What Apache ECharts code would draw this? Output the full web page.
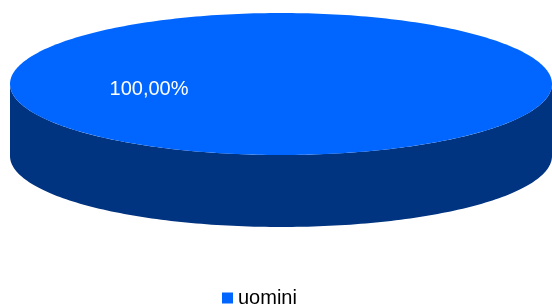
<!DOCTYPE html>
<html>
<head>
<meta charset="utf-8">
<script src="https://cdn.jsdelivr.net/npm/echarts@6/dist/echarts.min.js"></script>
<style>
  html, body { margin: 0; padding: 0; background: #fff; }
  #chart { width: 552px; height: 305px; }
</style>
</head>
<body>
<div id="chart"></div>
<script>
var categories = ['uomini'];
var values = [100];
var topColors = ['#0066FF'];
var sideColors = ['#003380'];

var chart = echarts.init(document.getElementById('chart'));
var total = values.reduce(function (a, b) { return a + b; }, 0);

// ellipse layout of the fake 3d pie
var cx = 281, cy = 84, rx = 271, ry = 71, depth = 72;
var labelPos = [149, 89];

function arc(a0, a1, dy) {
  var pts = [];
  var n = Math.max(2, Math.ceil((a1 - a0) / 0.02));
  for (var k = 0; k <= n; k++) {
    var t = a0 + (a1 - a0) * k / n;
    pts.push([cx + rx * Math.cos(t), cy + dy + ry * Math.sin(t)]);
  }
  return pts;
}

function renderItem(params, api) {
  var i = params.dataIndex;
  var before = 0;
  for (var j = 0; j < i; j++) before += values[j];
  var v = api.value(0);
  var a0 = -Math.PI / 2 + before / total * 2 * Math.PI;
  var a1 = a0 + v / total * 2 * Math.PI;
  var children = [];

  // side walls (front half only)
  for (var k = -1; k <= 2; k++) {
    var lo = Math.max(a0, 2 * Math.PI * k);
    var hi = Math.min(a1, 2 * Math.PI * k + Math.PI);
    if (lo < hi) {
      var pts = arc(lo, hi, 0).concat(arc(lo, hi, depth).reverse());
      children.push({
        type: 'polygon',
        shape: { points: pts },
        style: { fill: sideColors[i] }
      });
    }
  }

  // top face
  var topPts = arc(a0, a1, 0);
  if (v < total) topPts.unshift([cx, cy]);
  children.push({
    type: 'polygon',
    shape: { points: topPts },
    style: { fill: topColors[i] }
  });

  children.push({
    type: 'text',
    x: labelPos[0],
    y: labelPos[1],
    style: {
      text: (v / total * 100).toFixed(2).replace('.', ',') + '%',
      fill: '#ffffff',
      font: '20px "Liberation Sans", Arial, sans-serif',
      align: 'center',
      verticalAlign: 'middle'
    }
  });

  return { type: 'group', children: children };
}

var option = {
  animation: false,
  legend: {
    data: categories,
    top: 283,
    left: 217,
    icon: 'rect',
    itemWidth: 11,
    itemHeight: 11,
    itemGap: 10,
    textStyle: {
      fontSize: 20,
      color: '#000',
      fontFamily: '"Liberation Sans", Arial, sans-serif'
    }
  },
  series: [{
    type: 'custom',
    name: categories[0],
    coordinateSystem: 'none',
    renderItem: renderItem,
    itemStyle: { color: topColors[0] },
    data: values.map(function (v) { return [v]; })
  }]
};

chart.setOption(option);
</script>
</body>
</html>
